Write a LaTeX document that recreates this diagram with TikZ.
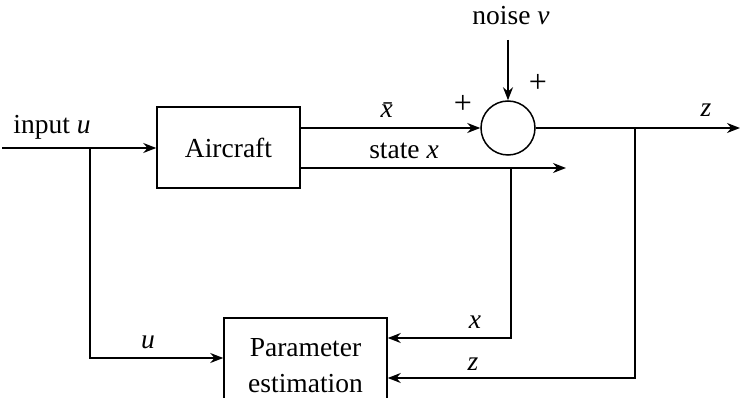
\documentclass[tikz,border=0pt]{standalone}
\usepackage{fontspec}
\setmainfont{Liberation Serif}
\usetikzlibrary{arrows.meta,positioning}

\begin{document}
\begin{tikzpicture}[
  x=1pt, y=-1pt,
  font=\fontsize{27.5}{36}\selectfont,
  box/.style={draw, line width=1.5pt, align=center, inner sep=0pt},
  sumnode/.style={draw, circle, line width=1.5pt, minimum size=54pt, inner sep=0pt},
  lbl/.style={inner sep=0pt},
  arr/.style={-{Stealth[length=13pt,width=10pt]}, line width=1.5pt}]
 \useasboundingbox (0,0) rectangle (740,398);
 % main blocks
 \node[box, minimum width=143pt, minimum height=81pt] (ac) at (228.5,147.5) {Aircraft};
 \node[sumnode] (sum) at (508,128) {};
 \node[box, minimum width=163pt, minimum height=96pt] (pe) at (305.5,366) {Parameter\\estimation};
 % free ends and branch points
 \coordinate (in) at (2,148);
 \coordinate (bu) at (90,148);
 \coordinate (nz) at (508,40);
 \coordinate (st) at (566,168);
 \coordinate (bx) at (511,168);
 \coordinate (out) at (740,128);
 \coordinate (bz) at (635,128);
 % labels
 \node[lbl] (lin) at (52,127) {input \textit{u}};
 \node[lbl] (lxb) at (390,110) {\textit{x^^^^0304}};
 \node[lbl] (lst) at (404,151) {state \textit{x}};
 \node[lbl, font=\fontsize{32}{32}\selectfont] (lp1) at (463,104) {+};
 \node[lbl, font=\fontsize{32}{32}\selectfont] (lp2) at (538,83) {+};
 \node[lbl] (lnv) at (511,16) {noise \textit{v}};
 \node[lbl] (lz) at (706,110) {\textit{z}};
 \node[lbl] (lx2) at (475,322) {\textit{x}};
 \node[lbl] (lz2) at (473,364) {\textit{z}};
 \node[lbl] (lu2) at (148,342) {\textit{u}};
 % connectors
 \draw[arr] (in) -- (ac.west|-in);
 \draw[arr] (bu) |- ([yshift=8pt]pe.west);
 \draw[arr] (ac.east|-sum) -- (sum);
 \draw[arr] (ac.east|-st) -- (st);
 \draw[arr] (nz) -- (sum);
 \draw[arr] (sum) -- (out);
 \draw[arr] (bx) |- ([yshift=28pt]pe.east);
 \draw[arr] (bz) |- ([yshift=-12pt]pe.east);
\end{tikzpicture}
\end{document}
